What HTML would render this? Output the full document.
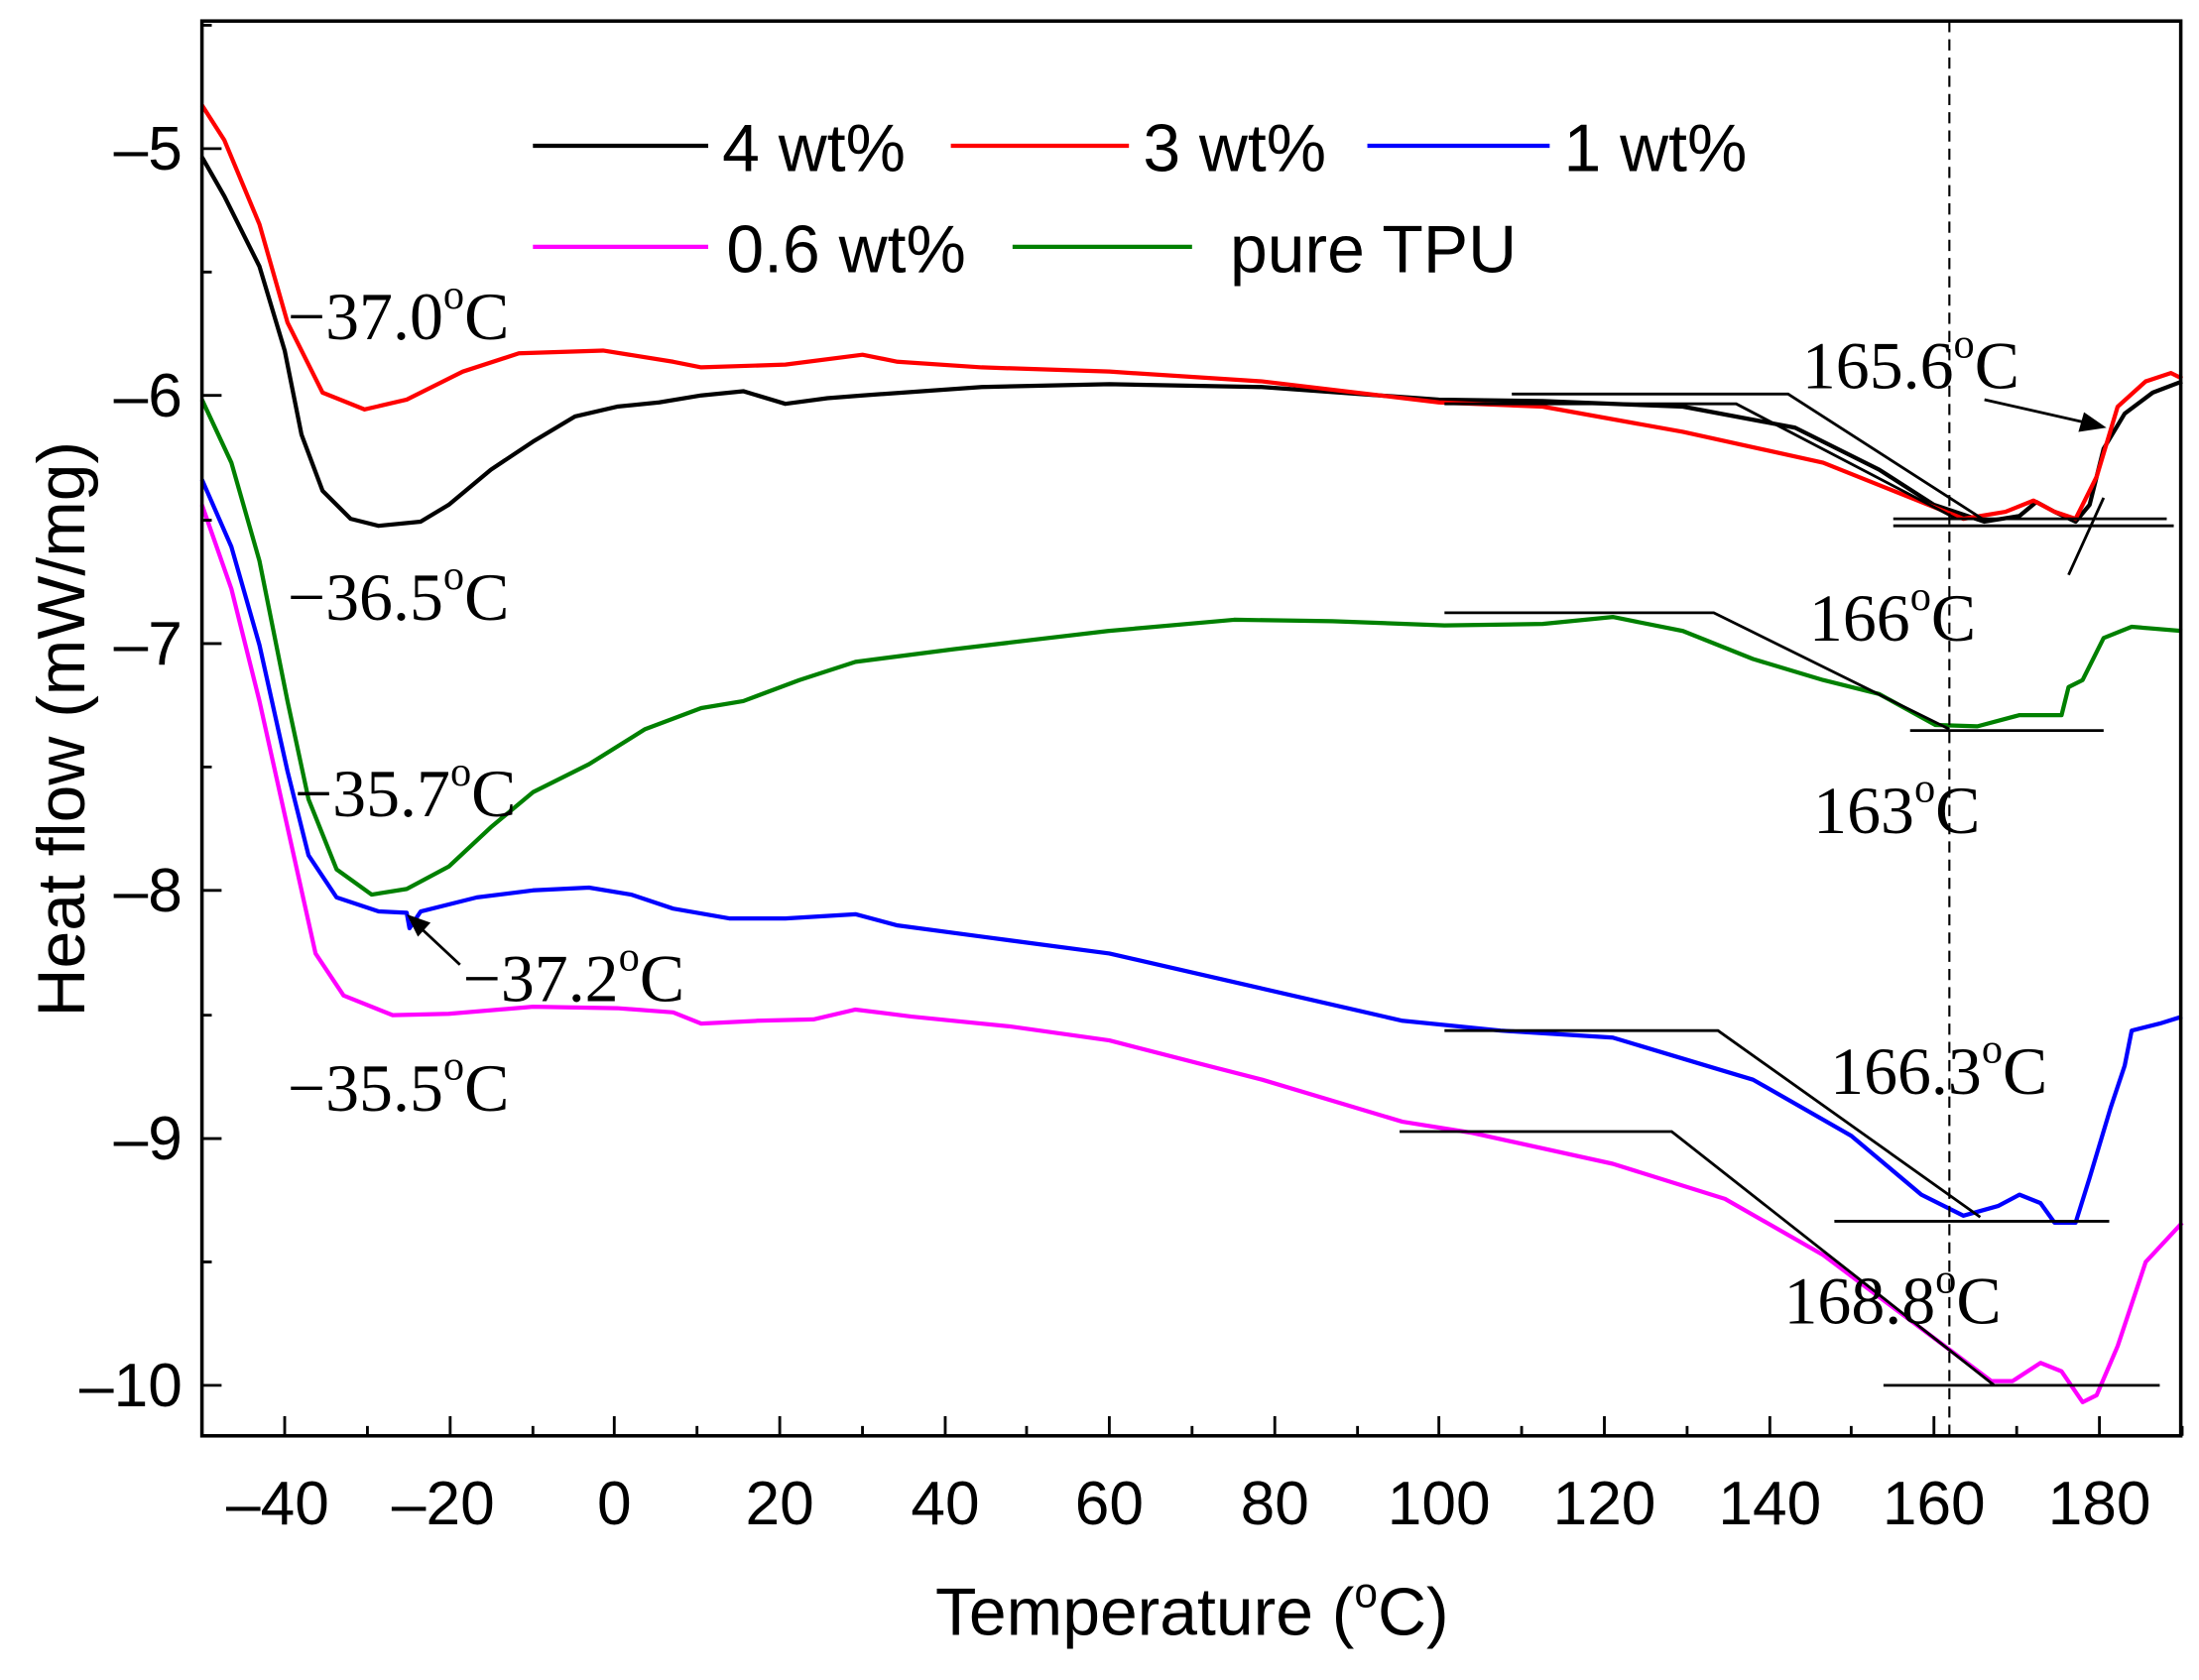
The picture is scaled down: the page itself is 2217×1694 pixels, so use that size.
<!DOCTYPE html>
<html><head><meta charset="utf-8"><style>html,body{margin:0;padding:0;background:#fff}</style></head><body>
<svg width="2217" height="1689" viewBox="0 0 1568 1194.6" preserveAspectRatio="none" xmlns="http://www.w3.org/2000/svg">
<rect width="1568" height="1195" fill="#fff"/>
<g fill="none" stroke-width="3" stroke-linejoin="round">
<polyline stroke="#000" points="144,112 160,140 185,190 203,250 215,310 230,350 250,370 270,375 300,372 320,360 350,335 380,315 410,297 440,290 470,287 500,282 530,279 560,288 590,284 615,282 700,276 791,274 900,276 1026,285 1100,286 1200,290 1280,305 1340,335 1379,360 1415,372 1440,368 1452,358 1465,365 1480,372 1490,360 1500,320 1515,295 1535,280 1556,272"/>
<polyline stroke="#f00" points="144,75 160,100 185,160 205,230 230,280 260,292 290,285 330,265 370,252 430,250 480,258 500,262 560,260 615,253 640,258 700,262 791,265 900,272 1026,287 1100,290 1200,308 1300,330 1370,358 1400,370 1430,365 1450,357 1465,365 1480,370 1495,340 1510,290 1530,272 1548,266 1556,270"/>
<polyline stroke="#008000" points="144,285 165,330 185,400 205,500 220,570 240,620 265,638 290,634 320,618 350,590 380,565 420,545 460,520 500,505 530,500 570,485 610,472 680,463 790,450 880,442 950,443 1030,446 1100,445 1150,440 1200,450 1250,470 1300,485 1340,495 1380,517 1410,518 1440,510 1470,510 1475,490 1485,485 1500,455 1520,447 1556,450"/>
<polyline stroke="#00f" points="144,342 165,390 185,460 205,550 220,610 240,640 270,650 290,651 292,662 300,650 340,640 380,635 420,633 450,638 480,648 520,655 560,655 610,652 640,660 700,668 791,680 900,705 1000,728 1070,735 1150,740 1250,770 1320,810 1370,852 1400,867 1425,860 1440,852 1455,858 1465,872 1480,872 1490,840 1505,790 1515,760 1520,735 1540,730 1556,725"/>
<polyline stroke="#f0f" points="144,360 165,420 185,500 205,590 225,680 245,710 280,724 320,723 380,718 440,719 480,722 500,730 540,728 580,727 610,720 650,725 720,732 791,742 900,770 1000,800 1050,808 1150,830 1230,855 1300,895 1380,955 1420,985 1435,985 1455,972 1470,978 1485,1000 1495,995 1510,960 1530,900 1556,872"/>
</g>
<g stroke="#000" stroke-width="2" fill="none">
<polyline points="1078,281 1275,281 1415,371"/>
<polyline points="1030,288 1238,288 1395,370"/>
<line x1="1350" y1="370" x2="1545" y2="370"/><line x1="1350" y1="375" x2="1550" y2="375"/>
<line x1="1475" y1="410" x2="1500" y2="355"/>
<polyline points="1030,437 1222,437 1390,520"/><line x1="1362" y1="521" x2="1500" y2="521"/>
<polyline points="1030,735 1225,735 1412,868"/><line x1="1308" y1="871" x2="1504" y2="871"/>
<polyline points="998,807 1192,807 1422,988"/><line x1="1343" y1="988" x2="1540" y2="988"/>
<line x1="1390" y1="15" x2="1390" y2="1024" stroke-width="1.5" stroke-dasharray="8,5"/>
<line x1="1415" y1="285" x2="1490" y2="302"/>
<line x1="328" y1="688" x2="298" y2="660"/>
</g>
<polygon points="1502,305 1482,308 1486,294" fill="#000"/>
<polygon points="290,652 307,658 298,668" fill="#000"/>
<g stroke="#000" stroke-width="2.5" fill="none">
<rect x="144" y="15" width="1411" height="1009"/>
</g>
<g stroke="#000" stroke-width="2">
<path d="M203,1024v-14M262,1024v-7M321,1024v-14M380,1024v-7M438,1024v-14M497,1024v-7M556,1024v-14M615,1024v-7M674,1024v-14M732,1024v-7M791,1024v-14M850,1024v-7M909,1024v-14M968,1024v-7M1026,1024v-14M1085,1024v-7M1144,1024v-14M1203,1024v-7M1262,1024v-14M1320,1024v-7M1379,1024v-14M1438,1024v-7M1497,1024v-14M1556,1024v-7"/>
<path d="M144,106h14M144,194h7M144,282h14M144,371h7M144,459h14M144,547h7M144,635h14M144,724h7M144,812h14M144,900h7M144,988h14M144,18h7"/>
</g>
<g font-family="Liberation Sans, sans-serif" font-size="44" fill="#000">
<g text-anchor="end"><text x="130" y="121">–5</text><text x="130" y="297">–6</text><text x="130" y="474">–7</text><text x="130" y="650">–8</text><text x="130" y="827">–9</text><text x="130" y="1003">–10</text></g>
<g text-anchor="middle"><text x="198" y="1087">–40</text><text x="316" y="1087">–20</text><text x="438" y="1087">0</text><text x="556" y="1087">20</text><text x="674" y="1087">40</text><text x="791" y="1087">60</text><text x="909" y="1087">80</text><text x="1026" y="1087">100</text><text x="1144" y="1087">120</text><text x="1262" y="1087">140</text><text x="1379" y="1087">160</text><text x="1497" y="1087">180</text></g>
<text x="850" y="1166" text-anchor="middle" font-size="48">Temperature (<tspan font-size="30" dy="-20">o</tspan><tspan dy="20">C)</tspan></text>
<text transform="translate(60,520) rotate(-90)" text-anchor="middle" font-size="48">Heat flow (mW/mg)</text>
<g font-size="48"><text x="515" y="122">4 wt%</text><text x="815" y="122">3 wt%</text><text x="1115" y="122">1 wt%</text><text x="518" y="194">0.6 wt%</text><text x="877" y="194">pure TPU</text></g>
</g>
<g stroke-width="3"><line x1="380" y1="104" x2="505" y2="104" stroke="#000"/><line x1="678" y1="104" x2="805" y2="104" stroke="#f00"/><line x1="975" y1="104" x2="1105" y2="104" stroke="#00f"/><line x1="380" y1="176" x2="505" y2="176" stroke="#f0f"/><line x1="722" y1="176" x2="850" y2="176" stroke="#008000"/></g>
<g font-family="Liberation Serif, serif" font-size="48" fill="#000">
<text x="205" y="242">−37.0<tspan font-size="30" dy="-22">o</tspan><tspan dy="22">C</tspan></text>
<text x="205" y="442">−36.5<tspan font-size="30" dy="-22">o</tspan><tspan dy="22">C</tspan></text>
<text x="210" y="582">−35.7<tspan font-size="30" dy="-22">o</tspan><tspan dy="22">C</tspan></text>
<text x="330" y="714">−37.2<tspan font-size="30" dy="-22">o</tspan><tspan dy="22">C</tspan></text>
<text x="205" y="792">−35.5<tspan font-size="30" dy="-22">o</tspan><tspan dy="22">C</tspan></text>
<text x="1285" y="277">165.6<tspan font-size="30" dy="-22">o</tspan><tspan dy="22">C</tspan></text>
<text x="1290" y="457">166<tspan font-size="30" dy="-22">o</tspan><tspan dy="22">C</tspan></text>
<text x="1293" y="594">163<tspan font-size="30" dy="-22">o</tspan><tspan dy="22">C</tspan></text>
<text x="1305" y="780">166.3<tspan font-size="30" dy="-22">o</tspan><tspan dy="22">C</tspan></text>
<text x="1272" y="944">168.8<tspan font-size="30" dy="-22">o</tspan><tspan dy="22">C</tspan></text>
</g>
</svg>
</body></html>
